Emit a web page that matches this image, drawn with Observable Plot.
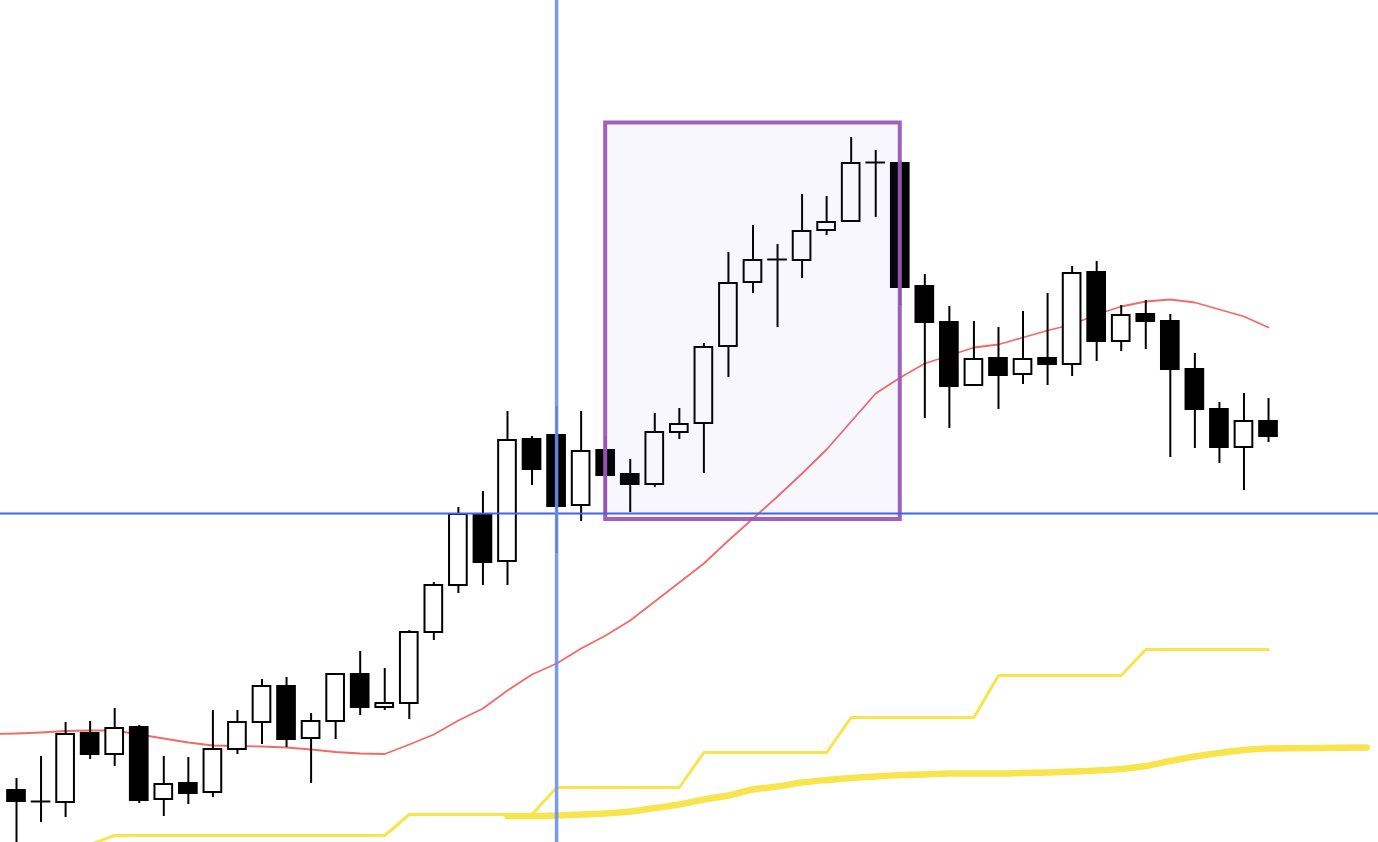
<!DOCTYPE html>
<html>
<head>
<meta charset="utf-8">
<script src="https://cdn.jsdelivr.net/npm/d3@7"></script>
<script src="https://cdn.jsdelivr.net/npm/@observablehq/plot@0.6"></script>
<style>
  html, body { margin: 0; padding: 0; background: #ffffff; overflow: hidden; }
  #chart svg { display: block; }
</style>
</head>
<body>
<div id="chart"></div>
<script>
// Candle OHLC values (price units)
const opens  = [152.10,151.99,151.98,152.67,152.46,152.73,152.01,152.17,152.08,152.51,152.78,153.14,152.62,152.79,153.26,152.93,152.97,153.68,154.15,154.86,154.39,155.61,155.65,154.95,155.50,155.26,155.16,155.68,155.77,156.54,157.18,157.41,157.40,157.70,157.79,158.38,158.37,157.14,156.78,156.15,156.42,156.26,156.42,156.36,157.28,156.59,156.86,156.79,156.31,155.91,155.53,155.79];
const highs  = [152.22,152.44,152.78,152.79,152.92,152.75,152.44,152.43,152.90,152.90,153.21,153.23,152.87,153.26,153.49,153.32,153.70,154.18,154.93,155.09,155.89,155.64,155.94,155.89,155.64,155.41,155.87,155.92,156.57,157.48,157.75,157.56,158.06,158.04,158.63,158.50,158.40,157.26,156.94,156.79,156.73,156.89,157.07,157.34,157.39,156.95,157.00,156.86,156.47,155.98,156.07,156.02];
const lows   = [151.52,151.78,151.83,152.41,152.34,151.97,151.84,151.96,152.03,152.46,152.56,152.53,152.17,152.61,152.85,152.90,152.81,153.60,154.07,154.15,154.15,155.15,154.47,154.79,154.88,154.88,155.13,155.61,155.27,156.23,157.07,156.73,157.22,157.65,157.79,157.83,156.95,155.82,155.72,156.15,155.91,156.16,156.15,156.24,156.39,156.49,156.51,155.43,155.52,155.37,155.10,155.58];
const closes = [151.99,151.99,152.66,152.46,152.72,152.00,152.16,152.07,152.51,152.78,153.14,152.61,152.79,153.26,152.93,152.97,153.68,154.15,154.86,154.38,155.60,155.31,154.94,155.49,155.25,155.16,155.68,155.76,156.53,157.17,157.40,157.41,157.69,157.78,158.37,158.38,157.13,156.78,156.14,156.41,156.25,156.41,156.36,157.27,156.59,156.85,156.79,156.31,155.91,155.53,155.79,155.64];

// Moving average (red), starting at bar index -1
const maStart = -1;
const maValues = [152.665,152.67,152.68,152.695,152.70,152.70,152.66,152.62,152.58,152.55,152.545,152.54,152.53,152.51,152.485,152.47,152.465,152.56,152.66,152.80,152.92,153.10,153.26,153.37,153.52,153.65,153.80,153.99,154.18,154.37,154.60,154.82,155.04,155.27,155.51,155.79,156.07,156.23,156.37,156.45,156.53,156.56,156.63,156.70,156.76,156.86,156.94,156.99,157.01,156.98,156.91,156.84,156.73];

// Thin yellow stepped line, starting at bar index 3
const stepStart = 3;
const stepValues = [151.56,151.65,151.65,151.65,151.65,151.65,151.65,151.65,151.65,151.65,151.65,151.65,151.65,151.86,151.86,151.86,151.86,151.86,151.86,152.13,152.13,152.13,152.13,152.13,152.13,152.48,152.48,152.48,152.48,152.48,152.48,152.83,152.83,152.83,152.83,152.83,152.83,153.25,153.25,153.25,153.25,153.25,153.25,153.51,153.51,153.51,153.51,153.51,153.51];

// Thick yellow smooth line, starting at bar index 20
const smoothStart = 20;
const smoothValues = [151.845,151.845,151.85,151.86,151.87,151.89,151.925,151.96,152.01,152.05,152.11,152.14,152.18,152.205,152.225,152.24,152.255,152.26,152.27,152.27,152.27,152.275,152.28,152.29,152.30,152.315,152.345,152.395,152.44,152.475,152.505,152.52,152.523,152.525,152.527,152.53];

// Annotations
const hLevel = [154.87];
const vBar = [22];
const boxBars = [24, 36];
const boxPrices = [154.81, 158.775];

const candles = opens.map((o, i) => ({i, open: o, high: highs[i], low: lows[i], close: closes[i]}));
const ma = maValues.map((v, k) => ({i: maStart + k, v}));
const steps = stepValues.map((v, k) => ({i: stepStart + k, v}));
const smooth = smoothValues.map((v, k) => ({i: smoothStart + k, v}));
const box = [{x1: boxBars[0], x2: boxBars[1], y1: boxPrices[0], y2: boxPrices[1]}];

const yellow = "#f8e54e";
const hw = 0.36;

const chart = Plot.plot({
  width: 1378,
  height: 842,
  margin: 0,
  style: {background: "#ffffff", overflow: "hidden"},
  x: {type: "linear", domain: [-0.6517, 55.48], axis: null},
  y: {domain: [151.58, 160], axis: null},
  marks: [
    Plot.line(smooth, {x: "i", y: "v", stroke: yellow, strokeWidth: 6.5, curve: "monotone-x", strokeLinecap: "round", clip: true}),
    Plot.line(steps, {x: "i", y: "v", stroke: yellow, strokeWidth: 3, clip: true}),
    Plot.line(ma, {x: "i", y: "v", stroke: "#ef5b55", strokeWidth: 1.8, strokeOpacity: 0.9, clip: true}),
    Plot.ruleX(candles, {x: "i", y1: "low", y2: "high", stroke: "#000", strokeWidth: 2, clip: true}),
    Plot.rect(candles.filter(d => d.open !== d.close), {
      x1: d => d.i - hw, x2: d => d.i + hw, y1: "open", y2: "close",
      fill: d => d.close > d.open ? "#ffffff" : "#000000", stroke: "#000", strokeWidth: 2, clip: true
    }),
    Plot.ruleY(candles.filter(d => d.open === d.close), {
      x1: d => d.i - hw - 0.04, x2: d => d.i + hw + 0.04, y: "open", stroke: "#000", strokeWidth: 2
    }),
    Plot.rect(box, {x1: "x1", x2: "x2", y1: "y1", y2: "y2", fill: "#7b5be0", fillOpacity: 0.05, stroke: "#9b59b6", strokeWidth: 4, strokeOpacity: 0.95}),
    Plot.ruleY(hLevel, {stroke: "#3f67e8", strokeWidth: 2}),
    Plot.ruleX(vBar, {stroke: "#6a8ff0", strokeWidth: 3.5, strokeOpacity: 0.9})
  ]
});
document.getElementById("chart").appendChild(chart);
</script>
</body>
</html>
